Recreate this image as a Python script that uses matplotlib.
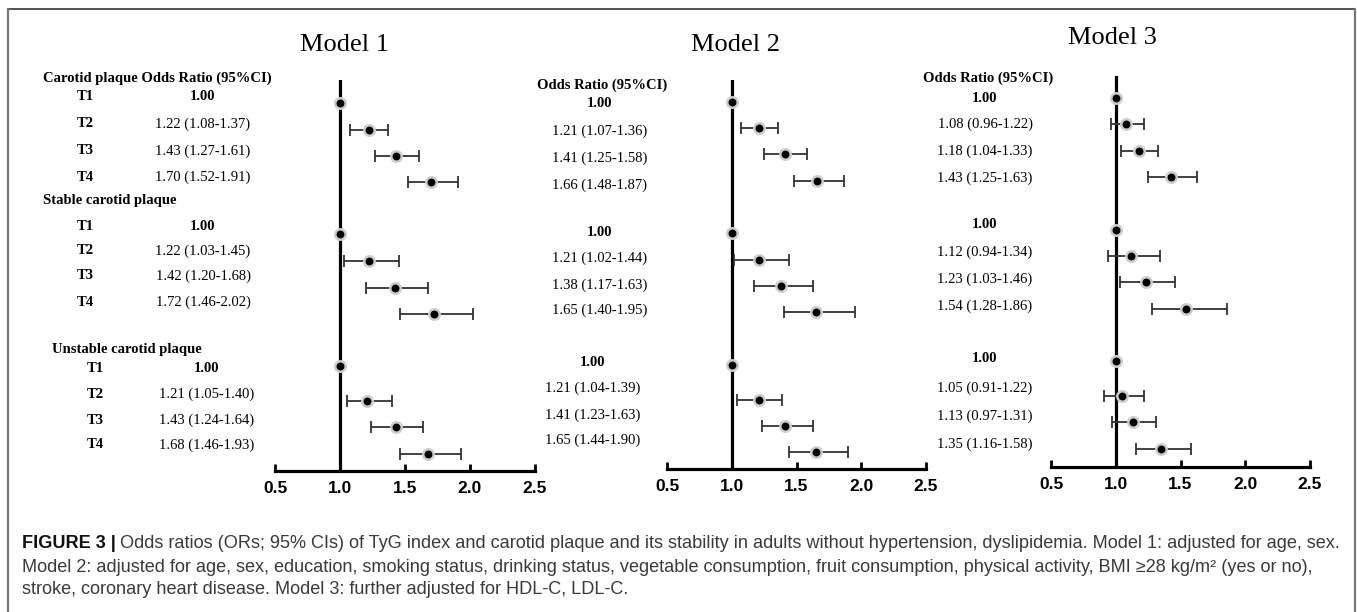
import numpy as np
import matplotlib
matplotlib.use("Agg")
import matplotlib.pyplot as plt
from matplotlib.lines import Line2D

plt.rcParams['font.family'] = ['Liberation Sans', 'DejaVu Sans']

# data
groups = ["Carotid plaque", "Stable carotid plaque", "Unstable carotid plaque"]
tertiles = ["T1", "T2", "T3", "T4"]
models = ["Model 1", "Model 2", "Model 3"]

or_m1 = [1.00, 1.22, 1.43, 1.70, 1.00, 1.22, 1.42, 1.72, 1.00, 1.21, 1.43, 1.68]
lo_m1 = [1.00, 1.08, 1.27, 1.52, 1.00, 1.03, 1.20, 1.46, 1.00, 1.05, 1.24, 1.46]
hi_m1 = [1.00, 1.37, 1.61, 1.91, 1.00, 1.45, 1.68, 2.02, 1.00, 1.40, 1.64, 1.93]

or_m2 = [1.00, 1.21, 1.41, 1.66, 1.00, 1.21, 1.38, 1.65, 1.00, 1.21, 1.41, 1.65]
lo_m2 = [1.00, 1.07, 1.25, 1.48, 1.00, 1.02, 1.17, 1.40, 1.00, 1.04, 1.23, 1.44]
hi_m2 = [1.00, 1.36, 1.58, 1.87, 1.00, 1.44, 1.63, 1.95, 1.00, 1.39, 1.63, 1.90]

or_m3 = [1.00, 1.08, 1.18, 1.43, 1.00, 1.12, 1.23, 1.54, 1.00, 1.05, 1.13, 1.35]
lo_m3 = [1.00, 0.96, 1.04, 1.25, 1.00, 0.94, 1.03, 1.28, 1.00, 0.91, 0.97, 1.16]
hi_m3 = [1.00, 1.22, 1.33, 1.63, 1.00, 1.34, 1.46, 1.86, 1.00, 1.22, 1.31, 1.58]

xticks = [0.5, 1.0, 1.5, 2.0, 2.5]

caption_bold = "FIGURE 3 |"
caption_lines = [
    "Odds ratios (ORs; 95% CIs) of TyG index and carotid plaque and its stability in adults without hypertension, dyslipidemia. Model 1: adjusted for age, sex.",
    "Model 2: adjusted for age, sex, education, smoking status, drinking status, vegetable consumption, fruit consumption, physical activity, BMI \u226528 kg/m\u00b2 (yes or no),",
    "stroke, coronary heart disease. Model 3: further adjusted for HDL-C, LDL-C.",
]

# layout (pixels of the 1357x612 image, y from top)
W, H = 1357, 612
def fx(p): return p / W
def fy(p): return 1 - p / H

panel_x = [(275, 535), (667, 926), (1051, 1310)]
panel_y = [(471, 80), (469, 80), (467, 76)]
title_pos = [(345, 45), (735, 45), (1112, 38)]
rows_y = [
    [103, 130, 156, 182, 234, 261, 288, 314, 366, 401, 427, 454],
    [102, 128, 154, 181, 233, 260, 286, 312, 365, 400, 426, 452],
    [98, 124, 151, 177, 230, 256, 282, 309, 361, 396, 422, 449],
]
text_y = [
    [97, 124, 151, 177, 226, 251, 276, 302, 368, 394, 420, 445],
    [103, 131, 158, 185, 232, 258, 285, 310, 362, 388, 415, 440],
    [98, 124, 151, 178, 224, 252, 279, 306, 358, 388, 416, 444],
]
text_x = [[203] * 8 + [207] * 4, [600] * 8 + [593] * 4, [985] * 12]
header_y = [78, 85, 78]
header_x = [None, 602, 988]

serif = ['Liberation Serif', 'DejaVu Serif']
fs = 10.5

fig = plt.figure(figsize=(W / 100, H / 100), dpi=100)

all_or = [or_m1, or_m2, or_m3]
all_lo = [lo_m1, lo_m2, lo_m3]
all_hi = [hi_m1, hi_m2, hi_m3]

for k in range(3):
    x0, x1 = panel_x[k]
    yb, yt = panel_y[k]
    ax = fig.add_axes([fx(x0), fy(yb), (x1 - x0) / W, (yb - yt) / H])
    ax.set_xlim(0.5, 2.5)
    ax.set_ylim(yb, yt)
    o = np.array(all_or[k]); lo = np.array(all_lo[k]); hi = np.array(all_hi[k])
    y = np.array(rows_y[k])
    ax.axvline(1.0, color='black', lw=2.3, zorder=1)
    m = hi > lo
    ax.errorbar(o[m], y[m], xerr=[o[m] - lo[m], hi[m] - o[m]], fmt='none',
                ecolor='#333333', elinewidth=1.3, capsize=4, capthick=1.3, zorder=2)
    ax.plot(o, y, 'o', ms=7.5, mfc='black', mec='#cccccc', mew=1.8, zorder=4, clip_on=False)
    for s in ['left', 'right', 'top']:
        ax.spines[s].set_visible(False)
    ax.spines['bottom'].set_linewidth(2.3)
    ax.set_yticks([])
    ax.set_xticks(xticks)
    ax.set_xticklabels([f"{t:.1f}" for t in xticks], fontweight='bold', fontsize=12.5)
    ax.tick_params(axis='x', direction='in', length=5, width=2, pad=7)
    ax.patch.set_alpha(0)

    fig.text(fx(title_pos[k][0]), fy(title_pos[k][1]), models[k], family=serif,
             fontsize=19, ha='center', va='center')

    # OR (95%CI) column
    for i in range(12):
        if hi[i] > lo[i]:
            s = f"{o[i]:.2f} ({lo[i]:.2f}-{hi[i]:.2f})"
            w = 'normal'
        else:
            s = f"{o[i]:.2f}"
            w = 'bold'
        fig.text(fx(text_x[k][i]), fy(text_y[k][i]), s, family=serif, fontsize=fs,
                 fontweight=w, ha='center', va='center')
    if header_x[k] is not None:
        fig.text(fx(header_x[k]), fy(header_y[k]), "Odds Ratio (95%CI)", family=serif,
                 fontsize=fs, fontweight='bold', ha='center', va='center')

# left labels
fig.text(fx(43), fy(78), groups[0] + " Odds Ratio (95%CI)", family=serif, fontsize=fs,
         fontweight='bold', va='center')
fig.text(fx(43), fy(201), groups[1], family=serif, fontsize=fs, fontweight='bold', va='center')
fig.text(fx(52), fy(349), groups[2], family=serif, fontsize=fs, fontweight='bold', va='center')
for i in range(12):
    lx = 85 if i < 8 else 95
    fig.text(fx(lx), fy(text_y[0][i]), tertiles[i % 4], family=serif, fontsize=fs,
             fontweight='bold', ha='center', va='center')

# frame
fig.add_artist(Line2D([fx(7.5), fx(1355)], [fy(8.5), fy(8.5)], color='#444444', lw=1.3))
fig.add_artist(Line2D([fx(7.5), fx(7.5)], [fy(8.5), 0], color='#777777', lw=1.6))
fig.add_artist(Line2D([fx(1355), fx(1355)], [fy(8.5), 0], color='#777777', lw=1.6))

# caption, fitted to the reference line width
cap_y = [543, 567, 590]
renderer = fig.canvas.get_renderer()
size = 11
for it in range(2):
    tb = fig.text(fx(22), fy(cap_y[0]), caption_bold, fontsize=size, fontweight='bold',
                  color='#111111', va='center')
    bb = tb.get_window_extent(renderer)
    tr = fig.text((bb.x1 + 0.3 * size) / W, fy(cap_y[0]), caption_lines[0], fontsize=size,
                  color='#3a3a3a', va='center')
    width = tr.get_window_extent(renderer).x1 - bb.x0
    if it == 0:
        tb.remove(); tr.remove()
        size = size * (1335 - 22) / width
for j in (1, 2):
    fig.text(fx(22), fy(cap_y[j]), caption_lines[j], fontsize=size, color='#3a3a3a', va='center')

fig.savefig("out.png", dpi=100)
